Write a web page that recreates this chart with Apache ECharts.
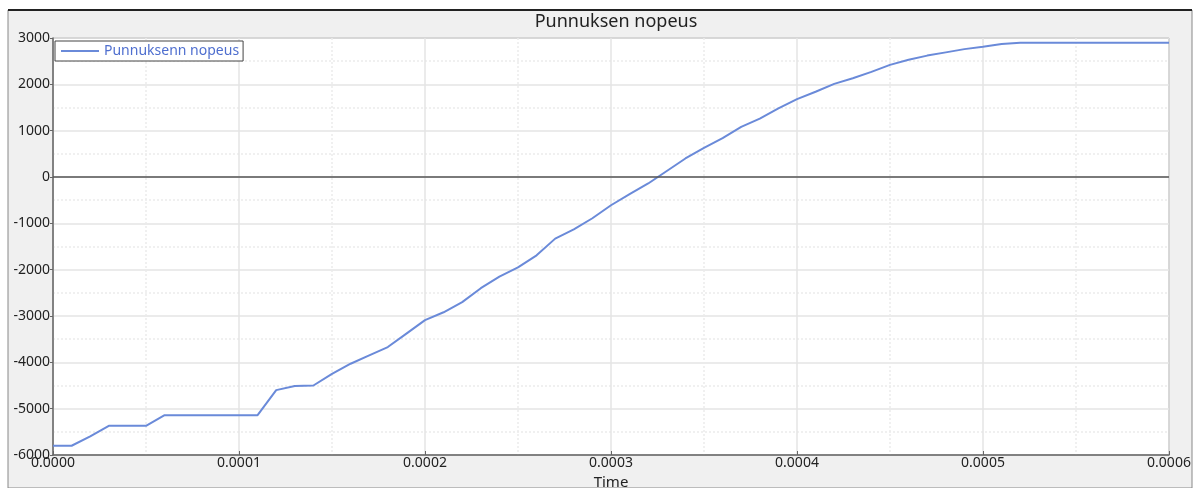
<!DOCTYPE html>
<html>
<head>
<meta charset="utf-8">
<script src="https://cdn.jsdelivr.net/npm/echarts@6/dist/echarts.min.js"></script>
<style>
html,body{margin:0;padding:0;background:#ffffff;}
#chart{width:1194px;height:488px;}
</style>
</head>
<body>
<div id="chart"></div>
<script>
const titleText = 'Punnuksen nopeus';
const seriesName = 'Punnuksenn nopeus';
const xAxisName = 'Time';
const times = [0,0.00001,0.00002,0.00003,0.00004,0.00005,0.00006,0.00007,0.00008,0.00009,0.0001,
  0.00011,0.00012,0.00013,0.00014,0.00015,0.00016,0.00017,0.00018,0.00019,0.0002,
  0.00021,0.00022,0.00023,0.00024,0.00025,0.00026,0.00027,0.00028,0.00029,0.0003,
  0.00031,0.00032,0.00033,0.00034,0.00035,0.00036,0.00037,0.00038,0.00039,0.0004,
  0.00041,0.00042,0.00043,0.00044,0.00045,0.00046,0.00047,0.00048,0.00049,0.0005,
  0.00051,0.00052,0.00053,0.00054,0.00055,0.00056,0.00057,0.00058,0.00059,0.0006];
const speeds = [-5800,-5800,-5600,-5370,-5370,-5370,-5140,-5140,-5140,-5140,-5140,
  -5140,-4600,-4510,-4500,-4250,-4030,-3850,-3670,-3380,-3090,
  -2920,-2700,-2400,-2150,-1950,-1690,-1330,-1130,-890,-610,
  -370,-140,130,400,630,840,1080,1260,1480,1680,
  1840,2010,2130,2270,2420,2530,2620,2690,2760,2810,
  2870,2900,2900,2900,2900,2900,2900,2900,2900,2900];
const xTicks = {min:0, max:0.0006, step:0.0001};
const yTicks = {min:-6000, max:3000, step:1000};

const data = times.map((t,i)=>[t, speeds[i]]);
const chart = echarts.init(document.getElementById('chart'), null, {renderer:'canvas'});
const font = 'Noto Sans';
chart.setOption({
  animation:false,
  backgroundColor:'#ffffff',
  textStyle:{fontFamily:font},
  graphic:[
    {type:'rect', z:-10, shape:{x:8,y:10,width:1184,height:478}, style:{fill:'#f0f0f0', stroke:'#888', lineWidth:1}},
    {type:'line', z:-9, shape:{x1:8,y1:10,x2:1192,y2:10}, style:{stroke:'#222', lineWidth:2}}
  ],
  title:{text:titleText, left:611, textAlign:'center', top:8,
    textStyle:{fontFamily:font, fontSize:18, fontWeight:'normal', color:'#222'}},
  legend:{show:true, left:55, top:41, orient:'vertical', backgroundColor:'#ffffff',
    borderColor:'#444', borderWidth:1, borderRadius:0, padding:[3,4,3,6],
    itemWidth:38, itemHeight:2, itemGap:0,
    icon:'rect',
    textStyle:{fontFamily:font, fontSize:14, color:'#4f6fcf'},
    data:[{name:seriesName}]},
  grid:{left:53, right:25, top:38, bottom:33, outerBoundsMode:'none', containLabel:false,
    show:true, backgroundColor:'#ffffff', borderColor:'#666', borderWidth:1},
  xAxis:{type:'value', min:xTicks.min, max:xTicks.max, interval:xTicks.step,
    name:xAxisName, nameLocation:'middle', nameGap:19,
    nameTextStyle:{fontFamily:font, fontSize:15, color:'#222'},
    axisLine:{show:true, onZero:false, lineStyle:{color:'#666', width:1.5}},
    axisTick:{show:true, length:4, inside:true, lineStyle:{color:'#666'}},
    minorTick:{show:false, splitNumber:2},
    axisLabel:{fontFamily:font, fontSize:14, color:'#222', margin:1,
      formatter:v=>v.toFixed(4)},
    splitLine:{show:true, lineStyle:{color:'#e4e4e4', width:1.5}},
    minorSplitLine:{show:true, lineStyle:{color:'#ececec', type:[2,2], width:1.5}}
  },
  yAxis:{type:'value', min:yTicks.min, max:yTicks.max, interval:yTicks.step,
    axisLine:{show:true, lineStyle:{color:'#666', width:1.5}},
    axisTick:{show:true, length:3, lineStyle:{color:'#666'}},
    minorTick:{show:false, splitNumber:2},
    axisLabel:{fontFamily:font, fontSize:14, color:'#222', margin:3,
      formatter:v=>String(v)},
    splitLine:{show:true, lineStyle:{color:'#e4e4e4', width:1.5}},
    minorSplitLine:{show:true, lineStyle:{color:'#ececec', type:[2,2], width:1.5}}
  },
  series:[{
    name:seriesName, type:'line', data:data, showSymbol:false, symbol:'none',
    lineStyle:{color:'#6a8ad9', width:2}, itemStyle:{color:'#6a8ad9'},
    markLine:{silent:true, symbol:'none', label:{show:false},
      lineStyle:{color:'#555', width:1.5, type:'solid'},
      data:[{yAxis:0}]}
  }]
});
</script>
</body>
</html>
